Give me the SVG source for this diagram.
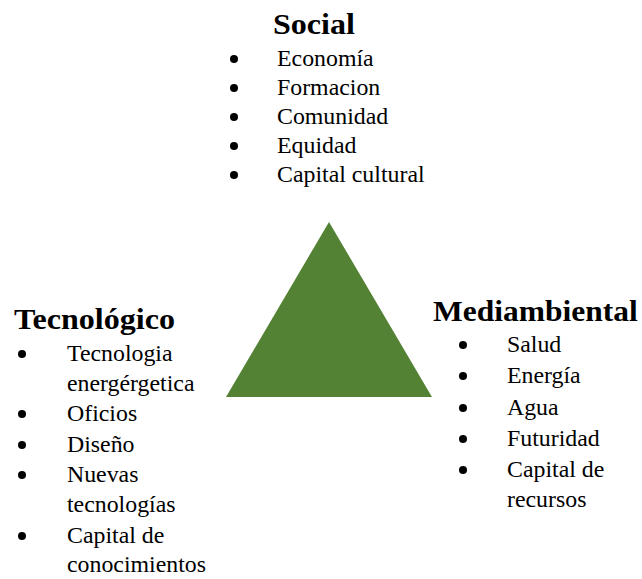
<svg xmlns="http://www.w3.org/2000/svg" width="642" height="579" viewBox="0 0 642 579">
<style>
.h{font-family:"Liberation Serif","Times New Roman",serif;font-weight:bold;font-size:30px;fill:#000}
.t{font-family:"Liberation Serif","Times New Roman",serif;font-size:22.5px;fill:#000}
.b{fill:#000}
</style>
<rect width="642" height="579" fill="#fff"/>
<g id="triangle">
<polygon points="329,222 226,397 432,397" fill="#548235"/>
</g>
<g id="social">
<text class="h" x="314" y="34" text-anchor="middle" transform="matrix(1.07 0 0 1 -21.98 0)">Social</text>
<circle class="b" cx="234" cy="59" r="4"/>
<circle class="b" cx="234" cy="88" r="4"/>
<circle class="b" cx="234" cy="117" r="4"/>
<circle class="b" cx="234" cy="146" r="4"/>
<circle class="b" cx="234" cy="175" r="4"/>
<g transform="matrix(1.06 0 0 1 -16.62 0)">
<text class="t" x="277" y="66">Economía</text>
<text class="t" x="277" y="95">Formacion</text>
<text class="t" x="277" y="124">Comunidad</text>
<text class="t" x="277" y="153">Equidad</text>
<text class="t" x="277" y="182">Capital cultural</text>
</g>
</g>
<g id="tecnologico">
<text class="h" x="14" y="329" transform="matrix(1.07 0 0 1 -0.98 0)">Tecnológico</text>
<circle class="b" cx="22" cy="354" r="4"/>
<circle class="b" cx="22" cy="414" r="4"/>
<circle class="b" cx="22" cy="445" r="4"/>
<circle class="b" cx="22" cy="475" r="4"/>
<circle class="b" cx="22" cy="536" r="4"/>
<g transform="matrix(1.06 0 0 1 -4.02 0)">
<text class="t" x="67" y="361">Tecnologia</text>
<text class="t" x="67" y="391">energérgetica</text>
<text class="t" x="67" y="421">Oficios</text>
<text class="t" x="67" y="452">Diseño</text>
<text class="t" x="67" y="482">Nuevas</text>
<text class="t" x="67" y="512">tecnologías</text>
<text class="t" x="67" y="543">Capital de</text>
<text class="t" x="67" y="572">conocimientos</text>
</g>
</g>
<g id="mediambiental">
<text class="h" x="433" y="321" transform="matrix(1.05 0 0 1 -21.65 0)">Mediambiental</text>
<circle class="b" cx="463" cy="345" r="4"/>
<circle class="b" cx="463" cy="376" r="4"/>
<circle class="b" cx="463" cy="408" r="4"/>
<circle class="b" cx="463" cy="439" r="4"/>
<circle class="b" cx="463" cy="470" r="4"/>
<g transform="matrix(1.06 0 0 1 -30.42 0)">
<text class="t" x="507" y="352">Salud</text>
<text class="t" x="507" y="383">Energía</text>
<text class="t" x="507" y="415">Agua</text>
<text class="t" x="507" y="446">Futuridad</text>
<text class="t" x="507" y="477">Capital de</text>
<text class="t" x="507" y="507">recursos</text>
</g>
</g>
</svg>
